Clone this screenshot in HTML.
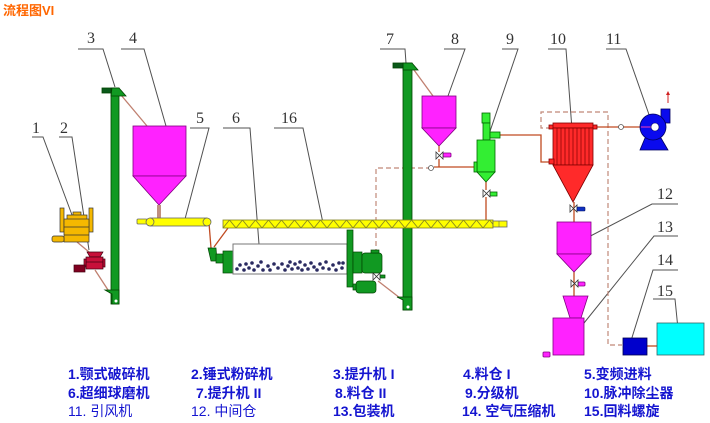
<!DOCTYPE html>
<html><head><meta charset="utf-8">
<style>
html,body{margin:0;padding:0;background:#fff;}
svg{display:block;}
</style></head><body>
<svg width="710" height="423" viewBox="0 0 710 423" xmlns="http://www.w3.org/2000/svg">
<defs>
<pattern id="zz" x="223" y="220" width="13" height="8" patternUnits="userSpaceOnUse">
<rect width="13" height="8" fill="#ffff00"/>
<polyline points="0,8 6.5,0 13,8" fill="none" stroke="#8a8a20" stroke-width="0.9"/>
</pattern>
</defs>
<rect width="710" height="423" fill="#fff"/>
<text x="3" y="15" font-family="Liberation Sans, Noto Sans CJK SC, sans-serif" font-size="13" font-weight="bold" fill="#ff6600">流程图VI</text>

<!-- leader lines -->
<g stroke="#505050" stroke-width="1" fill="none">
<polyline points="32,137 43,137 72,215"/>
<polyline points="59,137 72,137 89,250"/>
<polyline points="78,49 103,49 115,87"/>
<polyline points="121,49 144,49 170,140"/>
<polyline points="190,128 209,128 185,219"/>
<polyline points="223,128 250,128 260,257"/>
<polyline points="274,128 303,128 323,223"/>
<polyline points="380,49 405,49 406,63"/>
<polyline points="444,49 465,49 444,107"/>
<polyline points="502,49 518,49 485,146"/>
<polyline points="548,49 566,49 573,143"/>
<polyline points="606,49 626,49 653,126"/>
<polyline points="678,204 652,204 577,243"/>
<polyline points="678,236 654,236 580,328"/>
<polyline points="678,270 653,270 630,344"/>
<polyline points="653,299 675,299 679,339"/>
</g>
<g font-family="Liberation Serif, serif" font-size="16" fill="#333">
<text x="32" y="133">1</text>
<text x="60" y="133">2</text>
<text x="87" y="43">3</text>
<text x="129" y="43">4</text>
<text x="196" y="123">5</text>
<text x="232" y="123">6</text>
<text x="281" y="123">16</text>
<text x="386" y="44">7</text>
<text x="451" y="44">8</text>
<text x="506" y="44">9</text>
<text x="550" y="44">10</text>
<text x="606" y="44">11</text>
<text x="657" y="199">12</text>
<text x="657" y="232">13</text>
<text x="657" y="265">14</text>
<text x="657" y="296">15</text>
</g>

<!-- chutes (light brown) -->
<g stroke="#c08070" stroke-width="1.3" fill="none">
<line x1="77" y1="242" x2="89" y2="252"/>
<line x1="95" y1="270" x2="110" y2="293"/>
<line x1="121" y1="95" x2="147" y2="126"/>
<line x1="414" y1="70" x2="433" y2="96"/>
<line x1="378" y1="281" x2="400" y2="298"/>
</g>

<!-- dashed air lines -->
<g stroke="#c08878" stroke-width="1.2" fill="none" stroke-dasharray="5,3">
<polyline points="431,168 376,168 376,252"/>
<polyline points="551,128 541,128 541,112 608,112 608,345 622,345"/>
</g>

<!-- red pipes -->
<g stroke="#c04a20" stroke-width="1.3" fill="none">
<polyline points="209,223 211,248"/>
<line x1="228" y1="228" x2="214" y2="247"/>
<polyline points="439,159 439,167"/>
<line x1="434" y1="167" x2="474" y2="167"/>
<polyline points="500,135 541,135 541,162 549,162"/>
<line x1="486" y1="182" x2="486" y2="190"/>
<line x1="486" y1="197" x2="486" y2="220"/>
<line x1="597" y1="127" x2="645" y2="127"/>
<line x1="574" y1="202" x2="574" y2="222"/>
<line x1="574" y1="272" x2="574" y2="297"/>
<line x1="647" y1="346" x2="657" y2="346"/>
</g>

<!-- crusher 1 -->
<g fill="#f5b800" stroke="#333" stroke-width="0.7">
<rect x="60" y="208" width="4" height="24"/>
<rect x="89" y="208" width="4" height="24"/>
<rect x="73" y="212" width="8" height="4"/>
<rect x="67" y="215" width="20" height="5"/>
<rect x="64" y="219" width="25" height="23"/>
<line x1="64" y1="227" x2="89" y2="227"/>
<line x1="64" y1="235" x2="89" y2="235"/>
<rect x="52" y="236" width="12" height="6" rx="2"/>
</g>
<!-- crusher 2 -->
<g fill="#c8103a" stroke="#400010" stroke-width="0.7">
<polygon points="87,252 103,252 100,257 90,257"/>
<rect x="86" y="257" width="17" height="12"/>
<line x1="86" y1="262" x2="103" y2="262"/>
<rect x="84" y="259" width="2" height="8"/>
<rect x="103" y="259" width="2" height="8"/>
<rect x="74" y="265" width="11" height="7" fill="#800020"/>
</g>

<!-- elevator 3 -->
<g fill="#119922" stroke="#004400" stroke-width="0.8">
<rect x="111" y="88" width="8" height="216"/>
<polygon points="112,88 119,88 126,96 111,96"/>
<rect x="102" y="88" width="9" height="5" fill="#0a5a1a"/>
<polygon points="105,290 112,294 112,304 119,304 119,290"/>
</g>
<circle cx="116" cy="301" r="1.5" fill="#fff"/>
<!-- elevator 7 -->
<g fill="#119922" stroke="#004400" stroke-width="0.8">
<rect x="403" y="63" width="9" height="247"/>
<polygon points="403,63 412,63 418,70 403,70"/>
<rect x="393" y="63" width="10" height="5" fill="#0a5a1a"/>
<polygon points="397,297 403,300 403,310 412,310 412,297"/>
</g>
<circle cx="408" cy="307" r="1.5" fill="#fff"/>

<!-- silo 4 -->
<g fill="#ff22ff" stroke="#800080" stroke-width="0.8">
<rect x="133" y="126" width="53" height="50"/>
<polygon points="133,176 186,176 159,205"/>
</g>
<rect x="157" y="205" width="4" height="13" fill="#c09080"/>

<!-- screw feeder 5 -->
<g fill="#ffff00" stroke="#666" stroke-width="0.8">
<rect x="137" y="219" width="10" height="5" rx="1"/>
<rect x="150" y="218" width="57" height="8"/>
<circle cx="150" cy="222" r="4"/>
<circle cx="207" cy="222" r="4"/>
</g>

<!-- conveyor 16 -->
<rect x="223" y="220" width="270" height="8" fill="url(#zz)" stroke="#808020" stroke-width="0.8"/>
<rect x="493" y="221" width="14" height="6" fill="#ffff00" stroke="#666" stroke-width="0.8"/>
<line x1="499" y1="221" x2="499" y2="227" stroke="#666" stroke-width="0.6"/>

<!-- mill 6 -->
<g fill="#119922" stroke="#004400" stroke-width="0.7">
<polygon points="208,248 216,248 217,261 211,261"/>
<rect x="216" y="254" width="8" height="9"/>
<rect x="223" y="251" width="10" height="22"/>
</g>
<rect x="233" y="244" width="114" height="30" fill="#fff" stroke="#777" stroke-width="1"/>
<g fill="#2a2a60">
<circle cx="237" cy="269" r="1.8"/><circle cx="240" cy="265" r="1.8"/><circle cx="244" cy="270" r="1.8"/>
<circle cx="246" cy="264" r="1.8"/><circle cx="249" cy="268" r="1.8"/><circle cx="252" cy="263" r="1.8"/>
<circle cx="254" cy="270" r="1.8"/><circle cx="258" cy="266" r="1.8"/><circle cx="261" cy="262" r="1.8"/>
<circle cx="263" cy="270" r="1.8"/><circle cx="268" cy="266" r="1.8"/><circle cx="270" cy="270" r="1.8"/>
<circle cx="274" cy="264" r="1.8"/><circle cx="278" cy="268" r="1.8"/><circle cx="282" cy="264" r="1.8"/>
<circle cx="285" cy="270" r="1.8"/><circle cx="288" cy="266" r="1.8"/><circle cx="290" cy="262" r="1.8"/>
<circle cx="292" cy="269" r="1.8"/><circle cx="295" cy="264" r="1.8"/><circle cx="298" cy="268" r="1.8"/>
<circle cx="300" cy="262" r="1.8"/><circle cx="302" cy="270" r="1.8"/><circle cx="305" cy="265" r="1.8"/>
<circle cx="308" cy="269" r="1.8"/><circle cx="311" cy="263" r="1.8"/><circle cx="314" cy="267" r="1.8"/>
<circle cx="317" cy="270" r="1.8"/><circle cx="320" cy="264" r="1.8"/><circle cx="323" cy="268" r="1.8"/>
<circle cx="326" cy="262" r="1.8"/><circle cx="329" cy="269" r="1.8"/><circle cx="333" cy="265" r="1.8"/>
<circle cx="336" cy="270" r="1.8"/><circle cx="339" cy="263" r="1.8"/><circle cx="342" cy="268" r="1.8"/>
<circle cx="343" cy="263" r="1.8"/>
</g>
<g fill="#119922" stroke="#004400" stroke-width="0.7">
<rect x="347" y="230" width="6" height="57"/>
<rect x="353" y="252" width="9" height="21"/>
<rect x="362" y="253" width="20" height="20" rx="3"/>
<rect x="371" y="250" width="8" height="3"/>
<rect x="356" y="281" width="20" height="12" rx="3"/>
<rect x="353" y="284" width="3" height="6"/>
<rect x="380" y="275" width="5" height="3"/>
</g>
<polygon points="373,273 380,280 380,273 373,280" fill="#fff" stroke="#333" stroke-width="0.8"/>

<!-- silo 8 -->
<g fill="#ff22ff" stroke="#800080" stroke-width="0.8">
<rect x="422" y="96" width="34" height="32"/>
<polygon points="422,128 456,128 439,146"/>
<rect x="443" y="153" width="8" height="4" rx="1"/>
</g>
<line x1="439" y1="146" x2="439" y2="152" stroke="#c04a20" stroke-width="1.2"/>
<polygon points="436,152 443,159 443,152 436,159" fill="#fff" stroke="#333" stroke-width="0.8"/>
<circle cx="431" cy="168" r="2.5" fill="#fff" stroke="#555" stroke-width="0.8"/>

<!-- classifier 9 -->
<g fill="#33ee33" stroke="#006600" stroke-width="0.8">
<rect x="482" y="113" width="8" height="10"/>
<rect x="483" y="123" width="7" height="17"/>
<rect x="490" y="132" width="10" height="6"/>
<rect x="477" y="140" width="18" height="32"/>
<polygon points="477,172 495,172 486,182"/>
<rect x="474" y="162" width="3" height="10"/>
<rect x="490" y="192" width="7" height="4"/>
</g>
<polygon points="483,190 490,197 490,190 483,197" fill="#fff" stroke="#333" stroke-width="0.8"/>

<!-- bag filter 10 -->
<g fill="#ff2a2a" stroke="#800000" stroke-width="0.8">
<rect x="549" y="125" width="5" height="4"/>
<rect x="592" y="125" width="5" height="4"/>
<rect x="553" y="123" width="40" height="5"/>
<rect x="553" y="128" width="40" height="37"/>
<rect x="549" y="159" width="5" height="5"/>
<polygon points="553,165 593,165 573,202"/>
</g>
<g stroke="#800000" stroke-width="0.7">
<line x1="557" y1="128" x2="557" y2="165"/><line x1="561" y1="128" x2="561" y2="165"/>
<line x1="565" y1="128" x2="565" y2="165"/><line x1="569" y1="128" x2="569" y2="165"/>
<line x1="573" y1="128" x2="573" y2="165"/><line x1="577" y1="128" x2="577" y2="165"/>
<line x1="581" y1="128" x2="581" y2="165"/><line x1="585" y1="128" x2="585" y2="165"/>
<line x1="589" y1="128" x2="589" y2="165"/>
</g>
<polygon points="570,205 577,212 577,205 570,212" fill="#fff" stroke="#333" stroke-width="0.8"/>
<rect x="577" y="207" width="8" height="4" rx="1" fill="#1030c0" stroke="#001060" stroke-width="0.6"/>

<!-- fan 11 -->
<circle cx="621" cy="127" r="2.5" fill="#fff" stroke="#555" stroke-width="0.8"/>
<g fill="#0a0aee" stroke="#000060" stroke-width="0.8">
<polygon points="645,138 661,138 668,150 640,150"/>
<rect x="661" y="109" width="9" height="14"/>
<circle cx="653" cy="127" r="13"/>
</g>
<line x1="641" y1="127" x2="653" y2="127" stroke="#c030c0" stroke-width="1.3"/>
<circle cx="655" cy="127" r="4" fill="#fff" stroke="#000060" stroke-width="0.6"/>
<line x1="668" y1="103" x2="668" y2="94" stroke="#d02020" stroke-width="1"/>
<polygon points="666,95 670,95 668,91" fill="#d02020"/>

<!-- silo 12 -->
<g fill="#ff22ff" stroke="#800080" stroke-width="0.8">
<rect x="557" y="222" width="34" height="32"/>
<polygon points="557,254 591,254 574,272"/>
<rect x="578" y="282" width="7" height="4" rx="1"/>
<polygon points="563,296 588,296 581,318 570,318"/>
<rect x="553" y="318" width="31" height="37"/>
<rect x="543" y="352" width="7" height="5" rx="1"/>
</g>
<polygon points="571,280 578,287 578,280 571,287" fill="#fff" stroke="#333" stroke-width="0.8"/>

<!-- 14, 15 -->
<rect x="623" y="338" width="24" height="17" fill="#0000cc" stroke="#000050" stroke-width="0.8"/>
<rect x="657" y="323" width="47" height="32" fill="#00ffff" stroke="#336666" stroke-width="0.8"/>

<!-- legend -->
<g font-family="Liberation Sans, Noto Sans CJK SC, sans-serif" font-size="14" font-weight="bold" fill="#1515d0">
<text x="68" y="379">1.颚式破碎机</text>
<text x="191" y="379">2.锤式粉碎机</text>
<text x="333" y="379">3.提升机 I</text>
<text x="463" y="379">4.料仓 I</text>
<text x="584" y="379">5.变频进料</text>
<text x="68" y="398">6.超细球磨机</text>
<text x="196" y="398">7.提升机 II</text>
<text x="335" y="398">8.料仓 II</text>
<text x="465" y="398">9.分级机</text>
<text x="584" y="398">10.脉冲除尘器</text>
<text x="68" y="416" font-weight="normal">11. 引风机</text>
<text x="191" y="416" font-weight="normal">12. 中间仓</text>
<text x="333" y="416">13.包装机</text>
<text x="462" y="416">14. 空气压缩机</text>
<text x="584" y="416">15.回料螺旋</text>
</g>
</svg>
</body></html>
